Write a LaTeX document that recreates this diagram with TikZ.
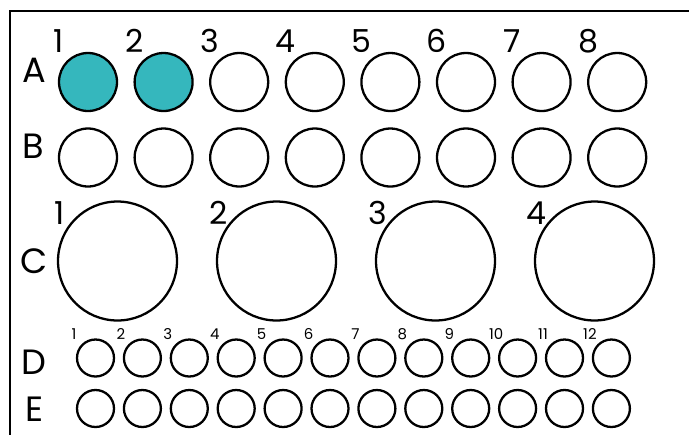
\documentclass[tikz,border=0pt]{standalone}
\usepackage{fontspec}
\setmainfont{Poppins}
\definecolor{wellteal}{RGB}{53,183,189}
\tikzset{
  well/.style={circle,draw,line width=1.3pt,inner sep=0pt,minimum size=1.16cm},
  bigwell/.style={well,minimum size=2.38cm},
  smallwell/.style={well,minimum size=0.74cm},
  filledwell/.style={well,fill=wellteal},
  rowlabel/.style={inner sep=0pt,font=\fontsize{20}{20}\selectfont},
  collabel/.style={inner sep=0pt,font=\fontsize{18}{18}\selectfont},
  tinylabel/.style={inner sep=0pt,font=\fontsize{8.5}{8.5}\selectfont}
}
\begin{document}
\begin{tikzpicture}[x=0.02cm,y=-0.02cm]
\useasboundingbox (0,0) rectangle (689,434);
\draw[line width=1.4pt] (10,11) rectangle (720,470);

\node[rowlabel] (rowA) at (34,70) {A};
\node[rowlabel] (rowB) at (33,146) {B};
\node[rowlabel] (rowC) at (34,261) {C};
\node[rowlabel] (rowD) at (34,362) {D};
\node[rowlabel] (rowE) at (35,409) {E};

\foreach \i in {1,...,8} {
  \pgfmathsetmacro{\cx}{88+75.6*(\i-1)}
  \ifnum\i<3
    \node[filledwell] (a\i) at (\cx,82) {};
  \else
    \node[well] (a\i) at (\cx,82) {};
  \fi
  \node[well] (b\i) at (\cx,157.5) {};
  \node[collabel] (na\i) at (\cx-29,41) {\i};
}

\foreach \i in {1,...,4} {
  \pgfmathsetmacro{\cx}{117.5+159*(\i-1)}
  \node[bigwell] (c\i) at (\cx,261) {};
  \node[collabel] (nc\i) at (\cx-58,213) {\i};
}

\foreach \i in {1,...,12} {
  \pgfmathsetmacro{\cx}{95.5+46.9*(\i-1)}
  \node[smallwell] (d\i) at (\cx,358) {};
  \node[smallwell] (e\i) at (\cx,408.5) {};
  \node[tinylabel] (nd\i) at (\cx-21.5,334) {\i};
}
\end{tikzpicture}
\end{document}
